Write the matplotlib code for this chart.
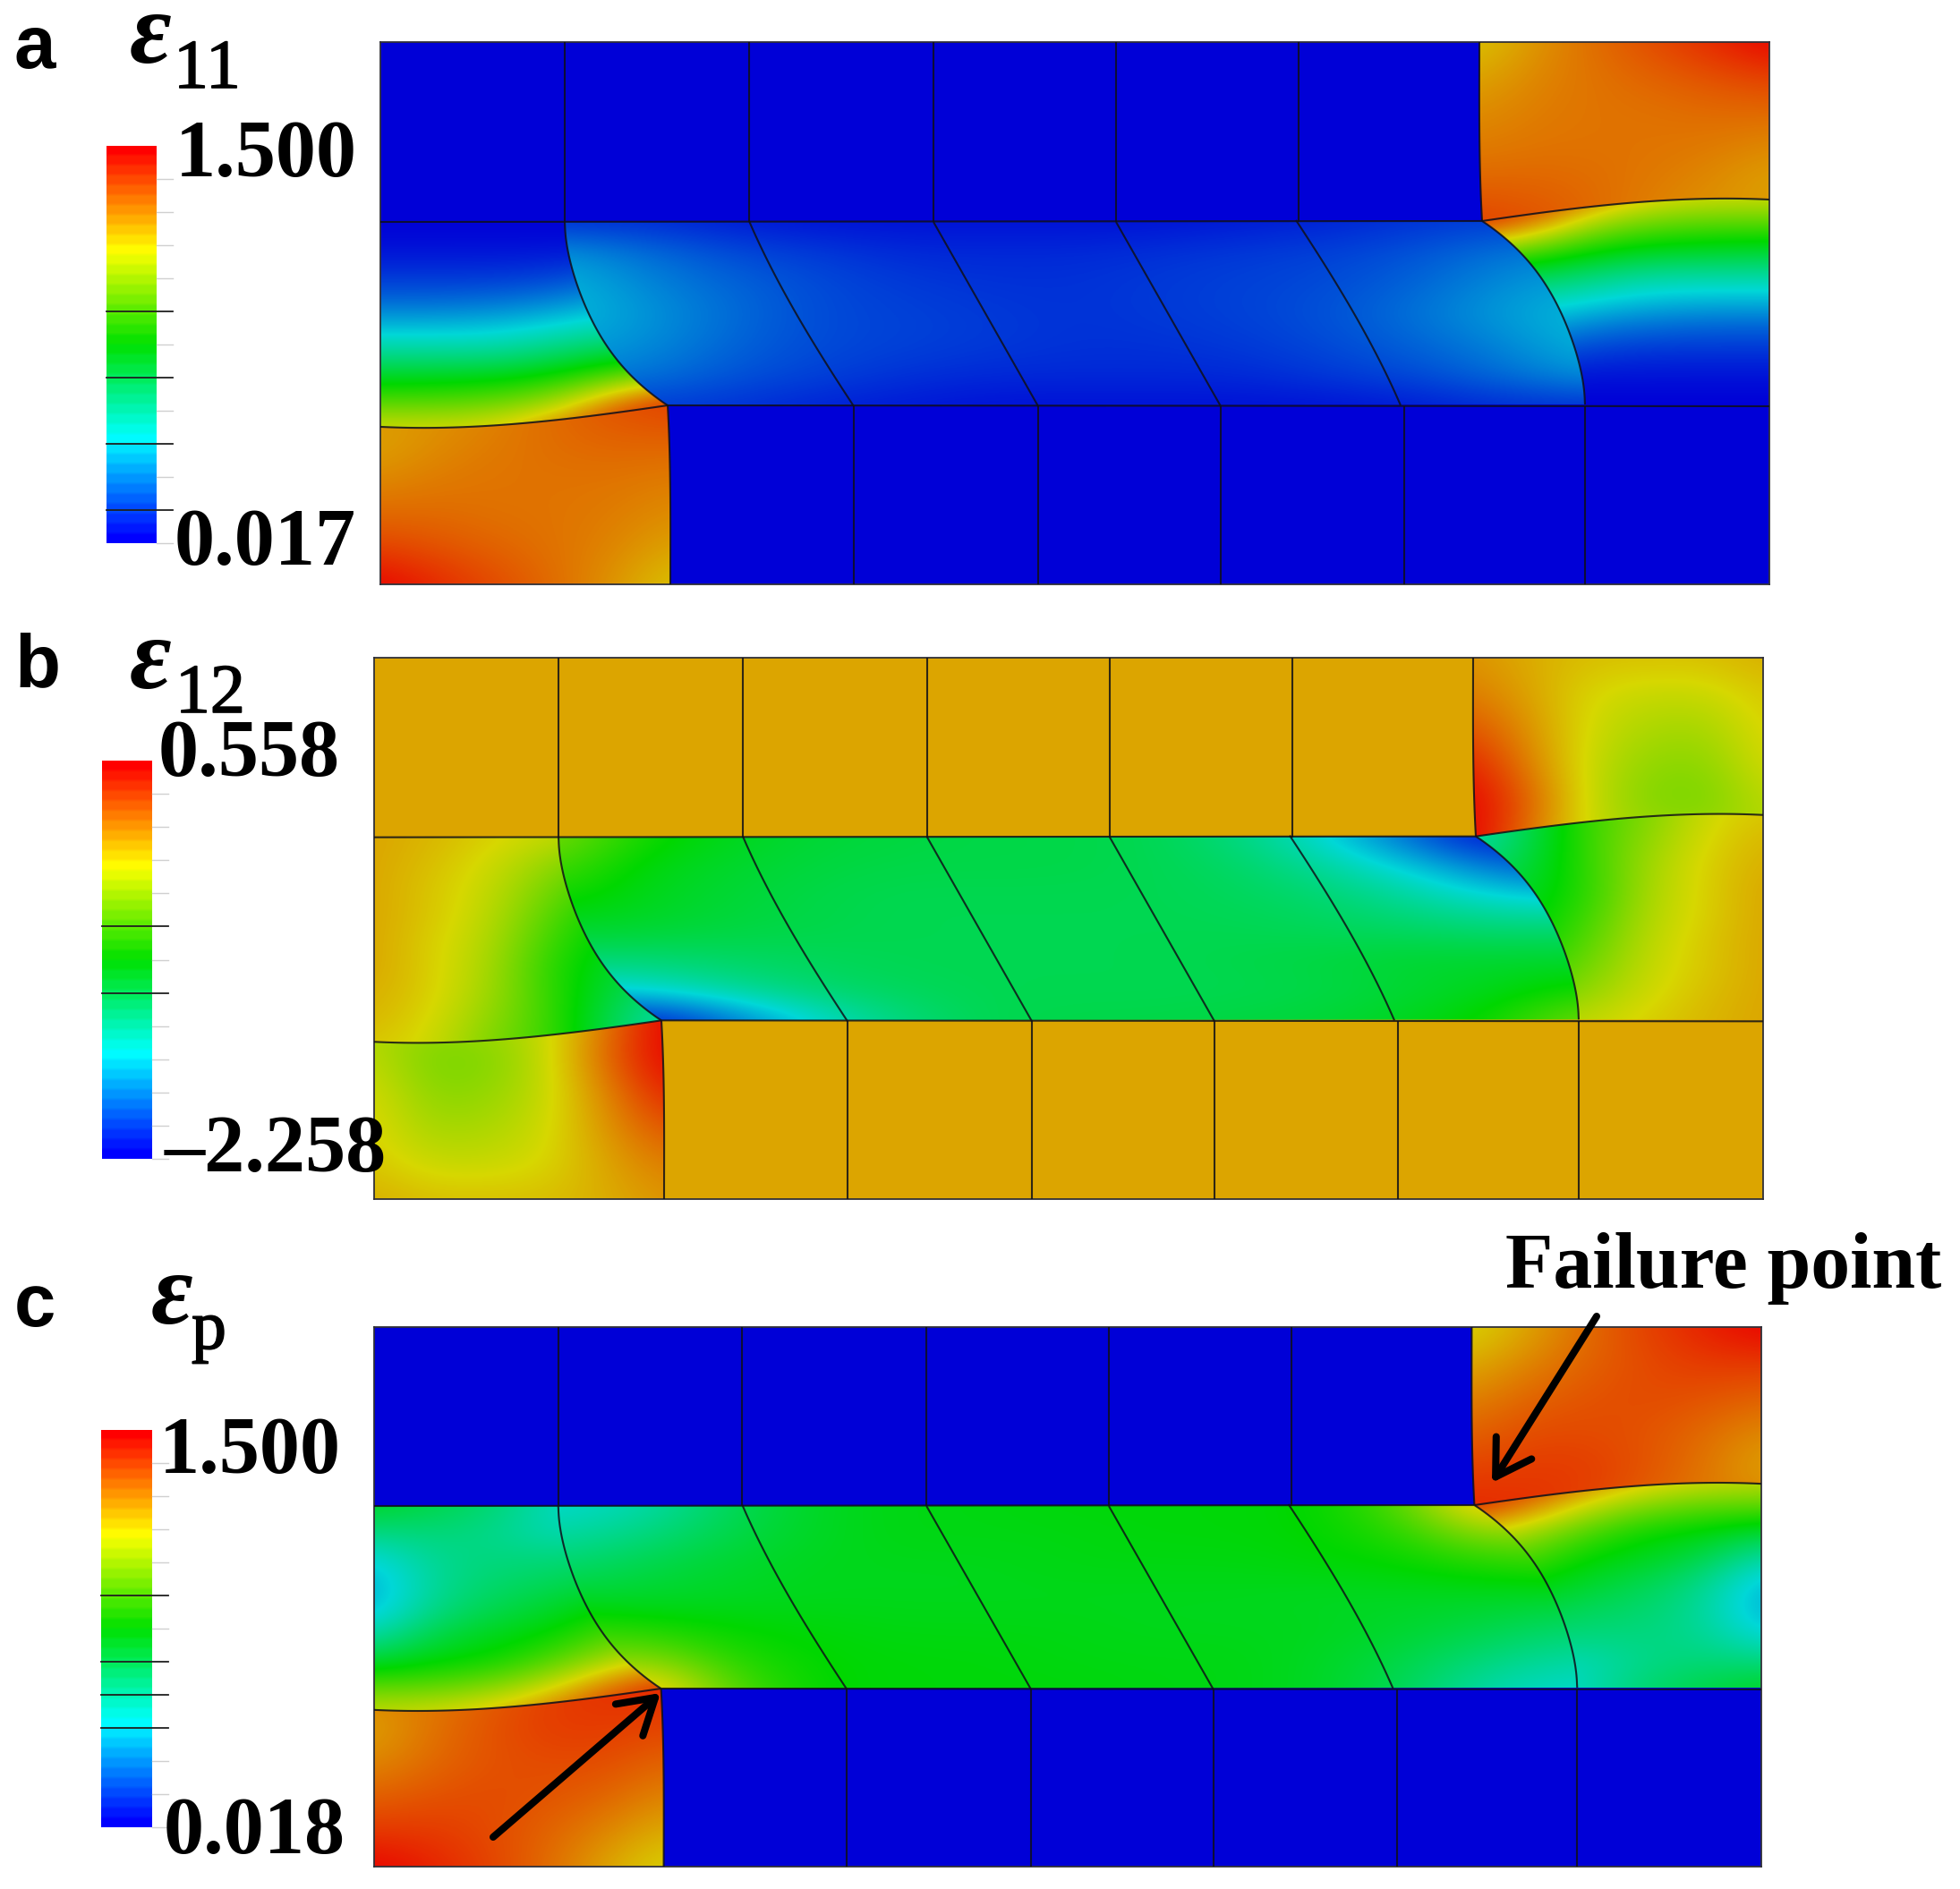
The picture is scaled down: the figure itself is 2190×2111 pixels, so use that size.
import numpy as np
import matplotlib
matplotlib.use("Agg")
import matplotlib.pyplot as plt
import matplotlib.patheffects as pe
from matplotlib.colors import LinearSegmentedColormap, ListedColormap
from matplotlib.patches import Polygon

W, H = 2190, 2111
SANS = "Liberation Sans"
SERIF = "Liberation Serif"

# ---------- field values, read as positions on the colour scale (0 = blue, 1 = red) ----------
# Lower-left block (upper-right block is its point mirror)
A_BLOCK = [[.82, .82, .84, .87, .90, .92],
           [.80, .83, .85, .87, .88, .88],
           [.83, .85, .86, .86, .86, .85],
           [.87, .87, .86, .86, .85, .83],
           [.92, .90, .88, .86, .84, .80],
           [1.0, .95, .91, .87, .82, .76]]
B_BLOCK = [[.70, .68, .68, .72, .85, 1.0],
           [.71, .63, .64, .72, .88, 1.0],
           [.74, .65, .66, .72, .84, .96],
           [.75, .68, .69, .73, .82, .90],
           [.76, .72, .72, .74, .80, .85],
           [.79, .77, .77, .77, .79, .82]]
C_BLOCK = [[.85, .85, .88, .92, .94, .95],
           [.80, .86, .90, .93, .93, .92],
           [.83, .87, .90, .91, .91, .88],
           [.88, .90, .91, .90, .88, .84],
           [.93, .93, .91, .88, .84, .79],
           [1.0, .96, .92, .87, .80, .74]]
# Left wedge of the middle band (right wedge is its point mirror)
A_WEDGE = [[0, 0, 0, 0, 0, 0],
           [.02, .02, .02, .02, .02, .02],
           [.06, .06, .06, .07, .10, .10],
           [.12, .12, .13, .15, .20, .20],
           [.22, .22, .23, .26, .30, .30],
           [.33, .33, .33, .37, .42, .42],
           [.46, .47, .48, .52, .60, .70],
           [.60, .60, .62, .68, .85, .95],
           [.74, .74, .76, .85, .95, .95]]
B_WEDGE = [[.80, .78, .75, .72, .70, .70],
           [.80, .77, .73, .67, .60, .60],
           [.80, .76, .72, .63, .55, .55],
           [.80, .76, .71, .60, .50, .50],
           [.80, .75, .70, .57, .48, .45],
           [.80, .75, .69, .55, .46, .42],
           [.79, .75, .68, .56, .44, .36],
           [.78, .74, .66, .57, .42, .30],
           [.76, .73, .64, .57, .42, .30]]
C_WEDGE = [[.46, .42, .38, .30, .25, .25],
           [.36, .37, .35, .30, .30, .30],
           [.26, .34, .36, .36, .38, .38],
           [.21, .33, .38, .40, .43, .45],
           [.22, .35, .41, .45, .50, .52],
           [.31, .42, .47, .50, .58, .62],
           [.44, .49, .51, .58, .68, .75],
           [.60, .60, .64, .72, .85, .95],
           [.72, .74, .78, .85, .95, .95]]
# Sheared centre of the middle band
A_MID = [[.05, .05, .03, .02, .02, .02, .02, .02, .03, .04, .06, .07, .07],
         [.18, .13, .09, .07, .05, .05, .05, .06, .07, .08, .10, .14, .16],
         [.22, .16, .12, .09, .07, .06, .06, .07, .08, .09, .12, .17, .20],
         [.23, .18, .13, .09, .08, .07, .06, .07, .08, .10, .14, .19, .23],
         [.20, .17, .12, .09, .08, .07, .06, .06, .07, .09, .12, .16, .22],
         [.16, .14, .10, .08, .06, .05, .05, .05, .05, .07, .09, .13, .18],
         [.07, .07, .06, .04, .03, .02, .02, .02, .02, .02, .03, .05, .05]]
B_MID = [[.64, .52, .47, .44, .43, .42, .42, .41, .36, .26, .12, .00, .10],
         [.58, .48, .45, .43, .42, .42, .42, .41, .39, .33, .25, .14, .10],
         [.52, .47, .44, .42, .41, .41, .41, .41, .40, .38, .33, .27, .25],
         [.45, .45, .43, .42, .41, .41, .41, .41, .41, .40, .39, .37, .38],
         [.38, .37, .39, .40, .41, .41, .41, .41, .42, .43, .45, .45, .45],
         [.25, .27, .33, .38, .40, .41, .41, .41, .41, .42, .44, .47, .52],
         [.10, .00, .12, .26, .36, .41, .42, .42, .43, .44, .47, .52, .64]]
C_MID = [[.27, .30, .40, .46, .48, .48, .49, .49, .49, .50, .60, .85, .70],
         [.32, .36, .42, .46, .48, .48, .48, .49, .49, .50, .54, .66, .60],
         [.38, .42, .45, .47, .47, .47, .48, .48, .48, .49, .50, .53, .55],
         [.45, .45, .46, .47, .47, .47, .47, .47, .47, .46, .46, .46, .45],
         [.55, .53, .50, .49, .48, .48, .48, .47, .47, .47, .45, .42, .38],
         [.60, .66, .54, .50, .49, .49, .48, .48, .48, .46, .42, .36, .32],
         [.70, .85, .60, .50, .49, .49, .49, .48, .48, .46, .40, .30, .27]]
BASE_VALUE = [0.0, 0.80, 0.0]
SCALE_TOP = ["1.500", "0.558", "1.500"]
SCALE_BOTTOM = ["0.017", "\u20132.258", "0.018"]
PANEL_LETTERS = ["a", "b", "c"]
SYMBOL_SUBS = ["11", "12", "p"]
DARK_TICKS = [[5, 7, 9, 11], [5, 7], [5, 7, 8, 9]]

# ---------- mesh geometry, in one shared panel coordinate system ----------
MESH_X = (425, 1977)
MESH_Y = (47, 653)
UPPER_Y, LOWER_Y = 248, 454
TOP_LINES_X = [631, 837, 1043, 1247, 1451]
BOTTOM_LINES_X = [954, 1160, 1364, 1569, 1771]
CURVE_X = [631, 634, 640, 655, 679, 710, 746]
CURVE_Y = [248, 275, 304, 345, 387, 425, 453]
INNER_X = [837, 856, 901, 954]
INNER_Y = [247, 288, 370, 454]
SHEAR_X = [[1043, 1160], [1247, 1364]]
BLOCK_TOP_X = [425, 480, 560, 650, 746]
BLOCK_TOP_Y = [477, 478, 475, 466, 453]
BLOCK_SIDE_X = [746, 748, 749, 749]
BLOCK_SIDE_Y = [453, 500, 560, 653]

# ---------- page placement of the three panels ----------
PANEL_RECTS = [(425, 47, 1552, 606), (418, 735, 1552, 605), (418, 1483, 1550, 603)]
BAR_RECTS = [(119, 163, 56, 444), (114, 850, 56, 445), (113, 1598, 57, 444)]

field_cmap = LinearSegmentedColormap.from_list("field", [
    (0.00, (0, 0, 215 / 255)), (0.26, (0, 215 / 255, 215 / 255)),
    (0.50, (0, 215 / 255, 0)), (0.74, (215 / 255, 215 / 255, 0)),
    (1.00, (235 / 255, 0, 0))], N=512)
bar_base = LinearSegmentedColormap.from_list("bar", [
    (0.00, (0, 0, 1)), (0.26, (0, 1, 1)), (0.50, (0, 225 / 255, 0)),
    (0.74, (1, 1, 0)), (1.00, (1, 0, 0))], N=512)
BAR_STEPS = 40
bar_cmap = ListedColormap(bar_base(np.linspace(0, 1, BAR_STEPS)))


def rot(xy):
    xy = np.asarray(xy, float)
    return np.column_stack([MESH_X[0] + MESH_X[1] - xy[:, 0], MESH_Y[0] + MESH_Y[1] - xy[:, 1]])


def px_axes(fig, rect):
    x, y, w, h = rect
    return fig.add_axes([x / W, 1 - (y + h) / H, w / W, h / H])


def smooth_x_of_y(xs, ys, deg):
    """Smooth polyline through the read-off points, x as a function of y."""
    c = np.polyfit(ys, xs, deg)
    yy = np.linspace(ys[0], ys[-1], 60)
    return np.column_stack([np.polyval(c, yy), yy])


def smooth_y_of_x(xs, ys, deg):
    c = np.polyfit(xs, ys, deg)
    xx = np.linspace(xs[0], xs[-1], 60)
    return np.column_stack([xx, np.polyval(c, xx)])


def paint(ax, table, x_range, y_range, poly):
    t = np.asarray(table, float)
    dx = (x_range[1] - x_range[0]) / (t.shape[1] - 1) / 2
    dy = (y_range[1] - y_range[0]) / (t.shape[0] - 1) / 2
    im = ax.imshow(t, extent=(x_range[0] - dx, x_range[1] + dx, y_range[1] + dy, y_range[0] - dy),
                   origin="upper", cmap=field_cmap, vmin=0, vmax=1, aspect="auto",
                   interpolation="bicubic", interpolation_stage="data", zorder=1)
    im.set_clip_path(Polygon(poly, closed=True, transform=ax.transData))


curve = smooth_x_of_y(CURVE_X, CURVE_Y, 4)
curve[0] = (CURVE_X[0], CURVE_Y[0])
curve[-1] = (CURVE_X[-1], CURVE_Y[-1])
inner = smooth_x_of_y(INNER_X, INNER_Y, 3)
block_top = smooth_y_of_x(BLOCK_TOP_X, BLOCK_TOP_Y, 3)
block_top[-1] = (BLOCK_TOP_X[-1], BLOCK_TOP_Y[-1])
block_side = smooth_x_of_y(BLOCK_SIDE_X, BLOCK_SIDE_Y, 3)

fig = plt.figure(figsize=(W / 100, H / 100), dpi=100, facecolor="white")

tables = [(A_BLOCK, A_WEDGE, A_MID), (B_BLOCK, B_WEDGE, B_MID), (C_BLOCK, C_WEDGE, C_MID)]
for rect, base, (block, wedge, mid) in zip(PANEL_RECTS, BASE_VALUE, tables):
    ax = px_axes(fig, rect)
    ax.set_facecolor(field_cmap(base))
    ax.set_xticks([])
    ax.set_yticks([])

    block_poly = np.vstack([block_top, block_side[1:], [[MESH_X[0], MESH_Y[1]]]])
    wedge_poly = np.vstack([[[MESH_X[0], UPPER_Y]], curve, block_top[::-1]])
    mid_poly = np.vstack([curve, rot(curve)])
    block_xr, block_yr = (425, 749), (453, 653)
    wedge_xr, wedge_yr = (425, 749), (248, 480)
    mirror = MESH_X[0] + MESH_X[1], MESH_Y[0] + MESH_Y[1]

    paint(ax, block, block_xr, block_yr, block_poly)
    paint(ax, np.asarray(block)[::-1, ::-1], (mirror[0] - block_xr[1], mirror[0] - block_xr[0]),
          (mirror[1] - block_yr[1], mirror[1] - block_yr[0]), rot(block_poly))
    paint(ax, wedge, wedge_xr, wedge_yr, wedge_poly)
    paint(ax, np.asarray(wedge)[::-1, ::-1], (mirror[0] - wedge_xr[1], mirror[0] - wedge_xr[0]),
          (mirror[1] - wedge_yr[1], mirror[1] - wedge_yr[0]), rot(wedge_poly))
    paint(ax, mid, (631, 1771), (UPPER_Y, LOWER_Y), mid_poly)

    line = dict(color="#101018", lw=1.5, alpha=0.85, zorder=3, solid_capstyle="butt")
    for x in TOP_LINES_X:
        ax.plot([x, x], [MESH_Y[0], UPPER_Y], **line)
    for x in BOTTOM_LINES_X:
        ax.plot([x, x], [LOWER_Y, MESH_Y[1]], **line)
    ax.plot([MESH_X[0], mirror[0] - curve[-1, 0]], [UPPER_Y, mirror[1] - curve[-1, 1]], **line)
    ax.plot([curve[-1, 0], MESH_X[1]], [curve[-1, 1], LOWER_Y], **line)
    for pts in (curve, rot(curve), inner, rot(inner), block_top, rot(block_top), block_side, rot(block_side)):
        ax.plot(pts[:, 0], pts[:, 1], **line)
    for xa, xb in SHEAR_X:
        ax.plot([xa, xb], [UPPER_Y, LOWER_Y], **line)
    ax.set_xlim(*MESH_X)
    ax.set_ylim(MESH_Y[1], MESH_Y[0])
    for s in ax.spines.values():
        s.set_linewidth(1.3)
        s.set_edgecolor("#303038")

for rect, dark_ticks in zip(BAR_RECTS, DARK_TICKS):
    ax = px_axes(fig, rect)
    bands = np.repeat(np.linspace(1, 0, BAR_STEPS), 3)[:, None]
    ax.imshow(bands, extent=(0, 1, 0, 1), cmap=bar_cmap, vmin=0, vmax=1, aspect="auto",
              interpolation="bilinear", interpolation_stage="rgba")
    ax.set_axis_off()
    for k in range(1, 13):
        dark = k in dark_ticks
        ax.plot([0 if dark else 1, 1.32], [1 - k / 12, 1 - k / 12], clip_on=False,
                color="#202020" if dark else "#d0d0d0", lw=1.3 if dark else 1.0, zorder=3)
    ax.set_xlim(0, 1)
    ax.set_ylim(0, 1)

# overlay for text and arrows, in page pixels
ov = fig.add_axes([0, 0, 1, 1], facecolor="none")
ov.set_xlim(0, W)
ov.set_ylim(H, 0)
ov.set_axis_off()

LETTER_POS = [(16, 76), (16, 767), (16, 1482)]
EPS_POS = [(145, 70), (145, 769), (169, 1479)]
SUB_POS = [(194, 98), (196, 796), (214, 1507)]
TOP_POS = [(196, 197), (177, 867), (178, 1646)]
BOTTOM_POS = [(195, 631), (184, 1309), (183, 2071)]
medium = [pe.withStroke(linewidth=1.2, foreground="black")]
for i in range(3):
    ov.text(*LETTER_POS[i], PANEL_LETTERS[i], family=SANS, weight="bold", fontsize=60, va="baseline", ha="left")
    ov.text(*EPS_POS[i], "\u03b5", family=SERIF, style="italic", weight="bold", fontsize=82, va="baseline", ha="left")
    ov.text(*SUB_POS[i], SYMBOL_SUBS[i], family=SERIF, fontsize=56, va="baseline", ha="left", path_effects=medium)
    ov.text(*TOP_POS[i], SCALE_TOP[i], family=SERIF, weight="bold", fontsize=65, va="baseline", ha="left")
    ov.text(*BOTTOM_POS[i], SCALE_BOTTOM[i], family=SERIF, weight="bold", fontsize=65, va="baseline", ha="left")

ov.text(1682, 1439, "Failure point", family=SERIF, weight="bold", fontsize=63, va="baseline", ha="left")
ARROWS = [((551, 2053), (738, 1892)), ((1784, 1471), (1667, 1657))]
for start, tip in ARROWS:
    ov.annotate("", xy=tip, xytext=start, arrowprops=dict(
        arrowstyle="->,head_length=1.15,head_width=0.7", color="black", lw=5.8,
        shrinkA=0, shrinkB=0, mutation_scale=24))

fig.savefig("out.png", dpi=100)
